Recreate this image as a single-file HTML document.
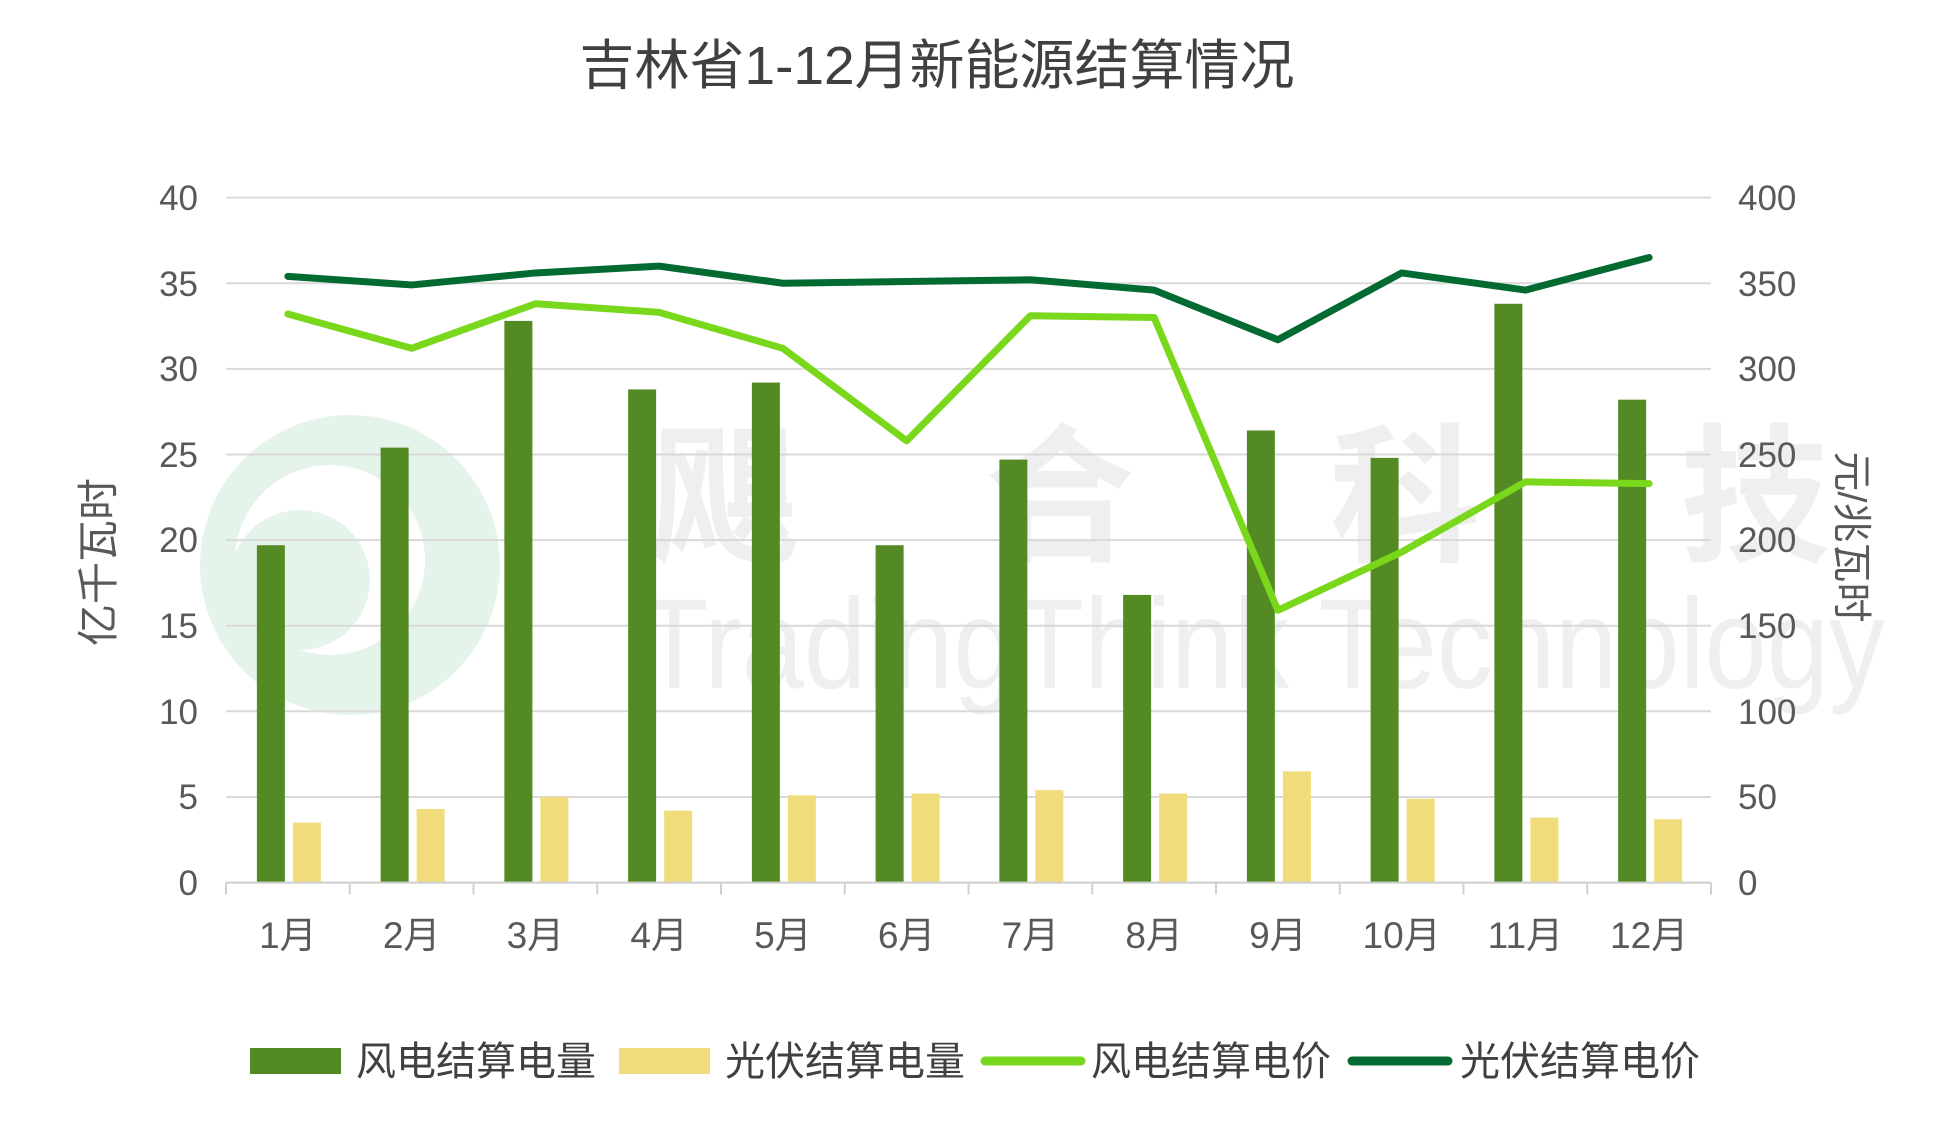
<!DOCTYPE html>
<html><head><meta charset="utf-8"><style>
html,body{margin:0;padding:0;background:#fff}
svg text{font-family:"Liberation Sans","Noto Sans CJK SC",sans-serif}
</style></head><body>
<svg width="1950" height="1123" viewBox="0 0 1950 1123" xmlns="http://www.w3.org/2000/svg">
<rect width="1950" height="1123" fill="#fff"/>
<g opacity="0.9">
<circle cx="350" cy="565" r="150" fill="#e3f3e8"/>
<circle cx="330" cy="560" r="95" fill="#fff"/>
<circle cx="300" cy="580" r="70" fill="#e3f3e8"/>
<g fill="#eeeeee" font-weight="bold" font-size="150">
<text x="650" y="550">飓</text><text x="985" y="550">合</text><text x="1330" y="550">科</text><text x="1680" y="550">技</text>
</g>
<text x="640" y="688" font-size="128" fill="#eeeeee" textLength="1245" lengthAdjust="spacingAndGlyphs">TradingThink Technology</text>
</g>
<text x="937" y="84" text-anchor="middle" font-size="54" fill="#404040" textLength="715" lengthAdjust="spacingAndGlyphs">吉林省1-12月新能源结算情况</text>
<g stroke="#d9d9d9" stroke-width="2">
<line x1="226" x2="1711" y1="197.6" y2="197.6"/><line x1="226" x2="1711" y1="283.2" y2="283.2"/>
<line x1="226" x2="1711" y1="368.9" y2="368.9"/><line x1="226" x2="1711" y1="454.5" y2="454.5"/>
<line x1="226" x2="1711" y1="540.1" y2="540.1"/><line x1="226" x2="1711" y1="625.7" y2="625.7"/>
<line x1="226" x2="1711" y1="711.3" y2="711.3"/><line x1="226" x2="1711" y1="797" y2="797"/>
<line x1="226" x2="1711" y1="882.6" y2="882.6"/>
</g>
<g fill="#595959" font-size="35">
<g text-anchor="end">
<text x="198" y="210">40</text><text x="198" y="296">35</text><text x="198" y="381">30</text><text x="198" y="467">25</text><text x="198" y="552">20</text><text x="198" y="638">15</text><text x="198" y="724">10</text><text x="198" y="809">5</text><text x="198" y="895">0</text>
</g>
<g text-anchor="start">
<text x="1738" y="210">400</text><text x="1738" y="296">350</text><text x="1738" y="381">300</text><text x="1738" y="467">250</text><text x="1738" y="552">200</text><text x="1738" y="638">150</text><text x="1738" y="724">100</text><text x="1738" y="809">50</text><text x="1738" y="895">0</text>
</g>
<text transform="translate(113,562) rotate(-90)" text-anchor="middle" font-size="42">亿千瓦时</text>
<text transform="translate(1838,537) rotate(90)" text-anchor="middle" font-size="40">元/兆瓦时</text>
</g>
<g id="bars"></g>
<g id="lines"></g>
<g id="ax"></g>
<rect x="250" y="1048" width="91" height="26" fill="#548a23"/>
<rect x="619" y="1048" width="91" height="26" fill="#f0dc7b"/>
<line x1="985" x2="1081" y1="1061" y2="1061" stroke="#7ad81c" stroke-width="9" stroke-linecap="round"/>
<line x1="1352" x2="1448" y1="1061" y2="1061" stroke="#036b32" stroke-width="9" stroke-linecap="round"/>
<g font-size="40" fill="#404040">
<text x="356" y="1075">风电结算电量</text><text x="725" y="1075">光伏结算电量</text>
<text x="1091" y="1075">风电结算电价</text><text x="1460" y="1075">光伏结算电价</text>
</g>
<script>
var x0=226,w=123.75,y0=882.6,u=17.125,ns="http://www.w3.org/2000/svg";
var wv=[19.7,25.4,32.8,28.8,29.2,19.7,24.7,16.8,26.4,24.8,33.8,28.2];
var sv=[3.5,4.3,5.0,4.2,5.1,5.2,5.4,5.2,6.5,4.9,3.8,3.7];
var wp=[332,312,338,333,312,258,331,330,159,193,234,233];
var sp=[354,349,356,360,350,351,352,346,317,356,346,365];
function el(t,a,p){var e=document.createElementNS(ns,t);for(var k in a)e.setAttribute(k,a[k]);document.getElementById(p).appendChild(e);return e;}
for(var i=0;i<12;i++){var c=x0+w*(i+0.5);
el('rect',{x:c-31,y:y0-wv[i]*u,width:28,height:wv[i]*u,fill:'#548a23'},'bars');
el('rect',{x:c+5,y:y0-sv[i]*u,width:28,height:sv[i]*u,fill:'#f0dc7b'},'bars');
var t=el('text',{x:c,y:948,'text-anchor':'middle','font-size':'37',fill:'#595959'},'ax');t.textContent=(i+1)+'月';}
for(var i=0;i<=12;i++)el('line',{x1:x0+w*i,x2:x0+w*i,y1:y0,y2:y0+12,stroke:'#d0d0d0','stroke-width':2},'ax');
el('line',{x1:x0,x2:x0+w*12,y1:y0,y2:y0,stroke:'#d0d0d0','stroke-width':2},'ax');
function pl(d,col){var p=d.map(function(v,i){return (x0+w*(i+0.5))+','+(y0-v*u/10)}).join(' ');
el('polyline',{points:p,fill:'none',stroke:col,'stroke-width':7,'stroke-linejoin':'round','stroke-linecap':'round'},'lines');}
pl(wp,'#7ad81c');pl(sp,'#036b32');
</script>
</svg>
</body></html>
